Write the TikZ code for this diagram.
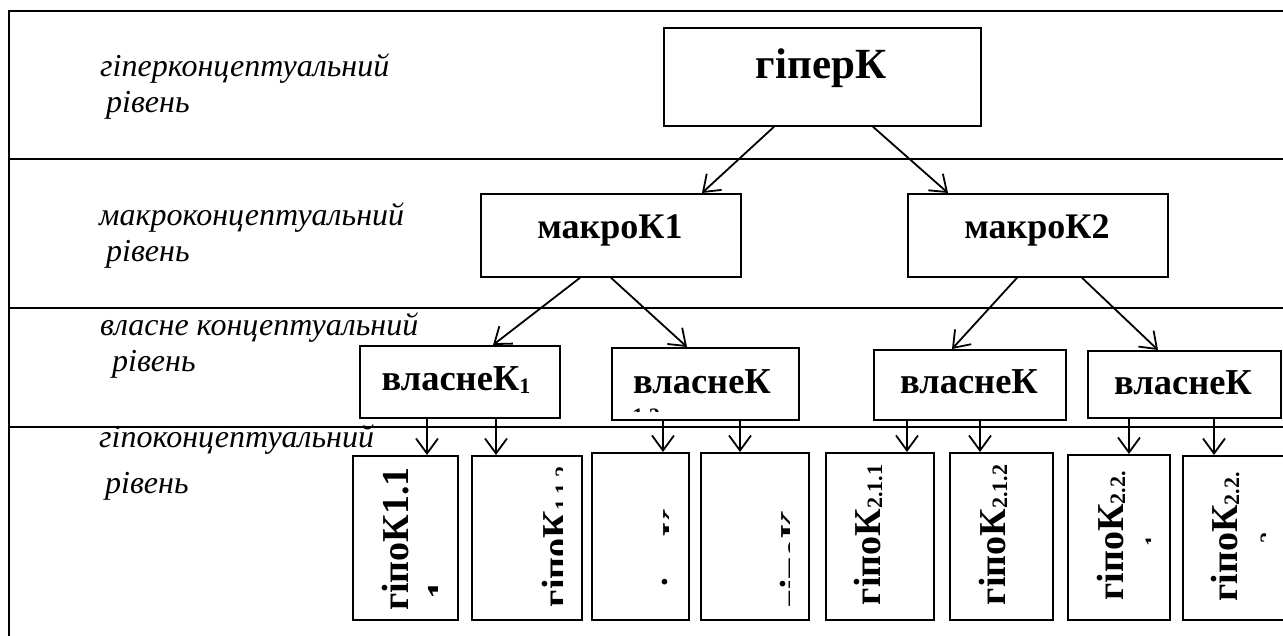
\documentclass[tikz,border=0pt]{standalone}
\usepackage{fontspec}
\setmainfont{Liberation Serif}
\usetikzlibrary{arrows.meta}
\newcommand\sbs[1]{\raisebox{-2pt}{\fontsize{22}{22}\selectfont #1}}
\begin{document}
\begin{tikzpicture}[x=1pt,y=-1pt,
  frameline/.style={line width=2pt},
  box/.style={draw, line width=1.8pt, inner sep=0pt, anchor=north west},
  lvl/.style={font=\fontsize{32}{32}\selectfont\itshape, anchor=base west, inner sep=0pt},
  hyt/.style={font=\fontsize{43}{43}\selectfont\bfseries, anchor=base, inner sep=0pt},
  mat/.style={font=\fontsize{36}{36}\selectfont\bfseries, anchor=base, inner sep=0pt},
  vlt/.style={font=\fontsize{36.5}{36.5}\selectfont\bfseries, anchor=base, inner sep=0pt},
  hpt/.style={font=\fontsize{38}{38}\selectfont\bfseries, anchor=base, inner sep=0pt, rotate=90},
  arr/.style={line width=1.8pt, -{Straight Barb[length=15pt,width=22pt,line width=1.8pt]}},
]
\useasboundingbox (0,0) rectangle (1283,636);
\clip (0,0) rectangle (1283,636);

% frame and level lines
\draw[frameline] (9,645) -- (9,11) -- (1295,11);
\draw[frameline] (9,159) -- (1295,159);
\draw[frameline] (9,308) -- (1295,308);
\draw[frameline] (9,427) -- (1295,427);

% level labels
\node[lvl] (l1a) at (100,77) {гіперконцептуальний};
\node[lvl] (l1b) at (106,113) {рівень};
\node[lvl] (l2a) at (99,226) {макроконцептуальний};
\node[lvl] (l2b) at (106,262) {рівень};
\node[lvl] (l3a) at (100,336) {власне концептуальний};
\node[lvl] (l3b) at (112,372) {рівень};
\node[lvl] (l4a) at (99,447) {гіпоконцептуальний};
\node[lvl] (l4b) at (105,493) {рівень};

% upper boxes
\node[box, minimum width=317pt, minimum height=98pt] (hyper) at (663,27) {};
\node[hyt] (hypert) at (821,79) {гіперК};
\node[box, minimum width=260pt, minimum height=83pt] (mac1) at (480,193) {};
\node[mat] (mac1t) at (610,239) {макроК1};
\node[box, minimum width=260pt, minimum height=83pt] (mac2) at (907,193) {};
\node[mat] (mac2t) at (1037,239) {макроК2};

\node[box, minimum width=200pt, minimum height=72pt] (vl1) at (359,345) {};
\node[vlt] (vl1t) at (456,391) {власнеК\sbs{1}};
\node[box, minimum width=187pt, minimum height=72pt] (vl2) at (611,347) {};
\node[vlt] (vl2t) at (702,393) {власнеК};
\begin{scope}
\clip (613,400) rectangle (796,411.5);
\node[font=\fontsize{22}{22}\selectfont\bfseries, anchor=base, inner sep=0pt] (vl2s) at (646,423) {1.2};
\end{scope}
\node[box, minimum width=192pt, minimum height=70pt] (vl3) at (873,349) {};
\node[vlt] (vl3t) at (969,394) {власнеК};
\node[box, minimum width=193pt, minimum height=67pt] (vl4) at (1087,350) {};
\node[vlt] (vl4t) at (1183,395) {власнеК};

% hypo boxes
\node[box, minimum width=105pt, minimum height=164pt] (h1) at (352,455) {};
\node[box, minimum width=110pt, minimum height=164pt] (h2) at (471,455) {};
\node[box, minimum width=97pt, minimum height=167pt] (h3) at (591,452) {};
\node[box, minimum width=108pt, minimum height=167pt] (h4) at (700,452) {};
\node[box, minimum width=108pt, minimum height=167pt] (h5) at (825,452) {};
\node[box, minimum width=103pt, minimum height=167pt] (h6) at (949,452) {};
\node[box, minimum width=102pt, minimum height=165pt] (h7) at (1067,454) {};
\node[box, minimum width=120pt, minimum height=164pt] (h8) at (1182,455) {};

% hypo texts (clipped as in the original)
\node[hpt] (h1t) at (408,539) {гіпоК1.1};
\begin{scope}
\clip (354,457) rectangle (437,617);
\node[hpt] (h1f) at (453,590) {1};
\end{scope}
\begin{scope}
\clip (473,457) rectangle (562,617);
\node[hpt] (h2t) at (568,537) {гіпоК\sbs{1.1.2}};
\end{scope}
\begin{scope}
\clip (593,454) rectangle (668,617);
\node[hpt] (h3t) at (688,535) {гіпоК\sbs{1.2.1}};
\end{scope}
\begin{scope}
\clip (702,454) rectangle (789,617);
\node[hpt] (h4t) at (806,537) {гіпоК\sbs{1.2.2}};
\end{scope}
\node[hpt] (h5t) at (880,535) {гіпоК\sbs{2.1.1}};
\node[hpt] (h6t) at (1005,535) {гіпоК\sbs{2.1.2}};
\node[hpt] (h7t) at (1123,536) {гіпоК\sbs{2.2.}};
\begin{scope}
\clip (1069,456) rectangle (1150,617);
\node[hpt, font=\fontsize{22}{22}\selectfont\bfseries] (h7f) at (1160,541) {1};
\end{scope}
\node[hpt] (h8t) at (1237,537) {гіпоК\sbs{2.2.}};
\begin{scope}
\clip (1184,457) rectangle (1265,617);
\node[hpt, font=\fontsize{22}{22}\selectfont\bfseries] (h8f) at (1275,538) {2};
\end{scope}

% connectors
\draw[arr] ([xshift=111pt]hyper.south west) -- ([xshift=222pt]mac1.north west);
\draw[arr] ([xshift=210pt]hyper.south west) -- ([xshift=41pt]mac2.north west);
\draw[arr] ([xshift=100pt]mac1.south west) -- ([xshift=134pt]vl1.north west);
\draw[arr] ([xshift=131pt]mac1.south west) -- ([xshift=76pt]vl2.north west);
\draw[arr] ([xshift=110pt]mac2.south west) -- ([xshift=79pt]vl3.north west);
\draw[arr] ([xshift=175pt]mac2.south west) -- ([xshift=71pt]vl4.north west);

\draw[arr] ([xshift=68pt]vl1.south west) -- ([xshift=75pt]h1.north west);
\draw[arr] ([xshift=137pt]vl1.south west) -- ([xshift=25pt]h2.north west);
\draw[arr] ([xshift=52pt]vl2.south west) -- ([xshift=72pt]h3.north west);
\draw[arr] ([xshift=129pt]vl2.south west) -- ([xshift=40pt]h4.north west);
\draw[arr] ([xshift=34pt]vl3.south west) -- ([xshift=82pt]h5.north west);
\draw[arr] ([xshift=107pt]vl3.south west) -- ([xshift=31pt]h6.north west);
\draw[arr] ([xshift=42pt]vl4.south west) -- ([xshift=62pt]h7.north west);
\draw[arr] ([xshift=127pt]vl4.south west) -- ([xshift=32pt]h8.north west);
\end{tikzpicture}
\end{document}
